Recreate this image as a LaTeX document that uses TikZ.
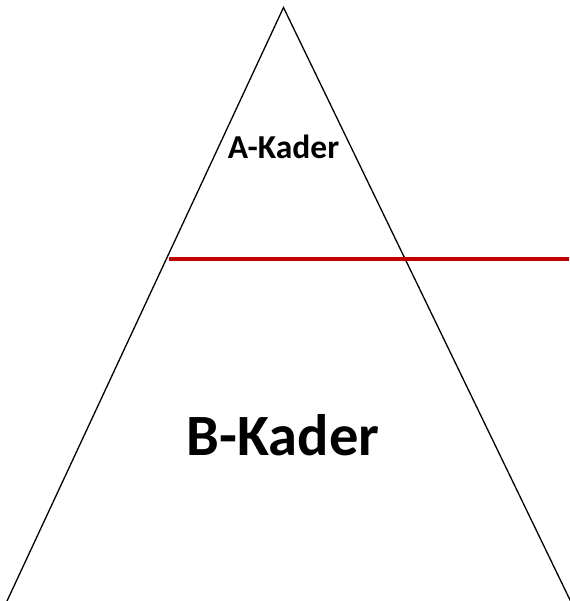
\documentclass[tikz,border=0pt]{standalone}
\usepackage{fontspec}
\setmainfont{Carlito}
\begin{document}
\begin{tikzpicture}[x=1pt,y=-1pt,
  side/.style={draw=black,line width=1.3pt},
  divider/.style={draw={rgb,255:red,192;green,0;blue,0},line width=4.5pt},
  label/.style={font=\bfseries,anchor=base,inner sep=0pt}]
\useasboundingbox (0,0) rectangle (569,601);
\coordinate (apex) at (283.5,7.5);
\coordinate (bl) at (7,601);
\coordinate (br) at (570.5,601);
\coordinate (rl) at (169,259);
\coordinate (rr) at (569,259);
\draw[side] (bl) -- (apex) -- (br);
\draw[divider] (rl) -- (rr);
\node[label,font=\bfseries\fontsize{33.5}{40}\selectfont] (a) at (283.5,159) {A-Kader};
\node[label,font=\bfseries\fontsize{58.5}{68}\selectfont] (b) at (283,455) {B-Kader};
\end{tikzpicture}
\end{document}
